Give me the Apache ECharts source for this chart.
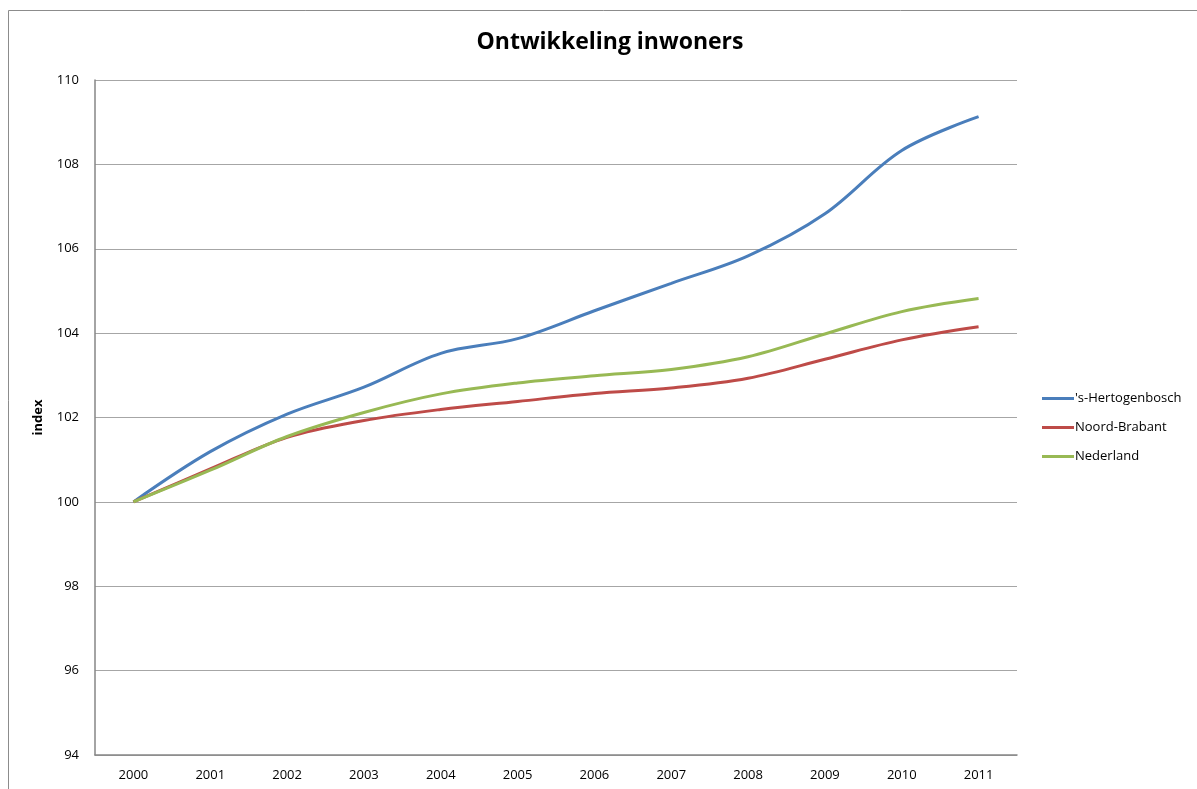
<!DOCTYPE html>
<html>
<head>
<meta charset="utf-8">
<script src="https://cdn.jsdelivr.net/npm/echarts@6/dist/echarts.min.js"></script>
<style>
  html, body { margin: 0; padding: 0; background: #fff; }
  #chart { width: 1197px; height: 789px; }
</style>
</head>
<body>
<div id="chart"></div>
<script>
// jaren en indexcijfers (2000 = 100)
var years = ['2000', '2001', '2002', '2003', '2004', '2005', '2006', '2007', '2008', '2009', '2010', '2011'];
var denBosch = [100, 101.19, 102.08, 102.72, 103.52, 103.87, 104.53, 105.18, 105.83, 106.83, 108.33, 109.13];
var noordBrabant = [100, 100.78, 101.53, 101.93, 102.19, 102.38, 102.57, 102.70, 102.93, 103.38, 103.84, 104.15];
var nederland = [100, 100.75, 101.55, 102.12, 102.56, 102.82, 102.99, 103.14, 103.44, 103.98, 104.51, 104.82];

var seriesNames = ["'s-Hertogenbosch", 'Noord-Brabant', 'Nederland'];
var seriesColors = ['#4a7ebb', '#be4b48', '#98b954'];
var seriesData = [denBosch, noordBrabant, nederland];

var chart = echarts.init(document.getElementById('chart'));

var series = [];
for (var i = 0; i < seriesData.length; i++) {
    series.push({
        name: seriesNames[i],
        type: 'line',
        smooth: 0.35,
        symbol: 'none',
        lineStyle: { color: seriesColors[i], width: 3 },
        itemStyle: { color: seriesColors[i] },
        data: seriesData[i]
    });
}

var option = {
    backgroundColor: '#ffffff',
    animation: false,
    textStyle: { fontFamily: 'Open Sans' },
    title: {
        text: 'Ontwikkeling inwoners',
        left: 605,
        top: 26,
        textAlign: 'center',
        textStyle: { fontSize: 23, fontWeight: 'bold', color: '#000', fontFamily: 'Open Sans' }
    },
    graphic: [{
        type: 'rect',
        shape: { x: 8.5, y: 10.5, width: 1300, height: 900 },
        style: { fill: 'none', stroke: '#8c8c8c', lineWidth: 1 },
        silent: true
    }],
    legend: {
        orient: 'vertical',
        left: 1037,
        top: 384,
        itemWidth: 32,
        itemHeight: 3,
        itemGap: 10,
        icon: 'rect',
        data: seriesNames,
        textStyle: { fontSize: 13, lineHeight: 19, color: '#000', padding: [0, 0, 0, -4] }
    },
    grid: {
        left: 95,
        right: 180,
        top: 80,
        bottom: 34
    },
    xAxis: {
        type: 'category',
        boundaryGap: true,
        data: years,
        axisLine: { lineStyle: { color: '#868686', width: 1.5 } },
        axisTick: { show: false },
        axisLabel: { color: '#000', fontSize: 13, margin: 14 }
    },
    yAxis: {
        type: 'value',
        min: 94,
        max: 110,
        interval: 2,
        name: 'index',
        nameLocation: 'center',
        nameRotate: 90,
        nameGap: 50,
        nameTextStyle: { fontSize: 13, fontWeight: 'bold', color: '#000' },
        axisLine: { show: true, lineStyle: { color: '#868686', width: 1.5 } },
        axisTick: { show: false },
        axisLabel: { color: '#000', fontSize: 13, margin: 16 },
        splitLine: { lineStyle: { color: '#a6a6a6', width: 1 } }
    },
    series: series
};

chart.setOption(option);
</script>
</body>
</html>
